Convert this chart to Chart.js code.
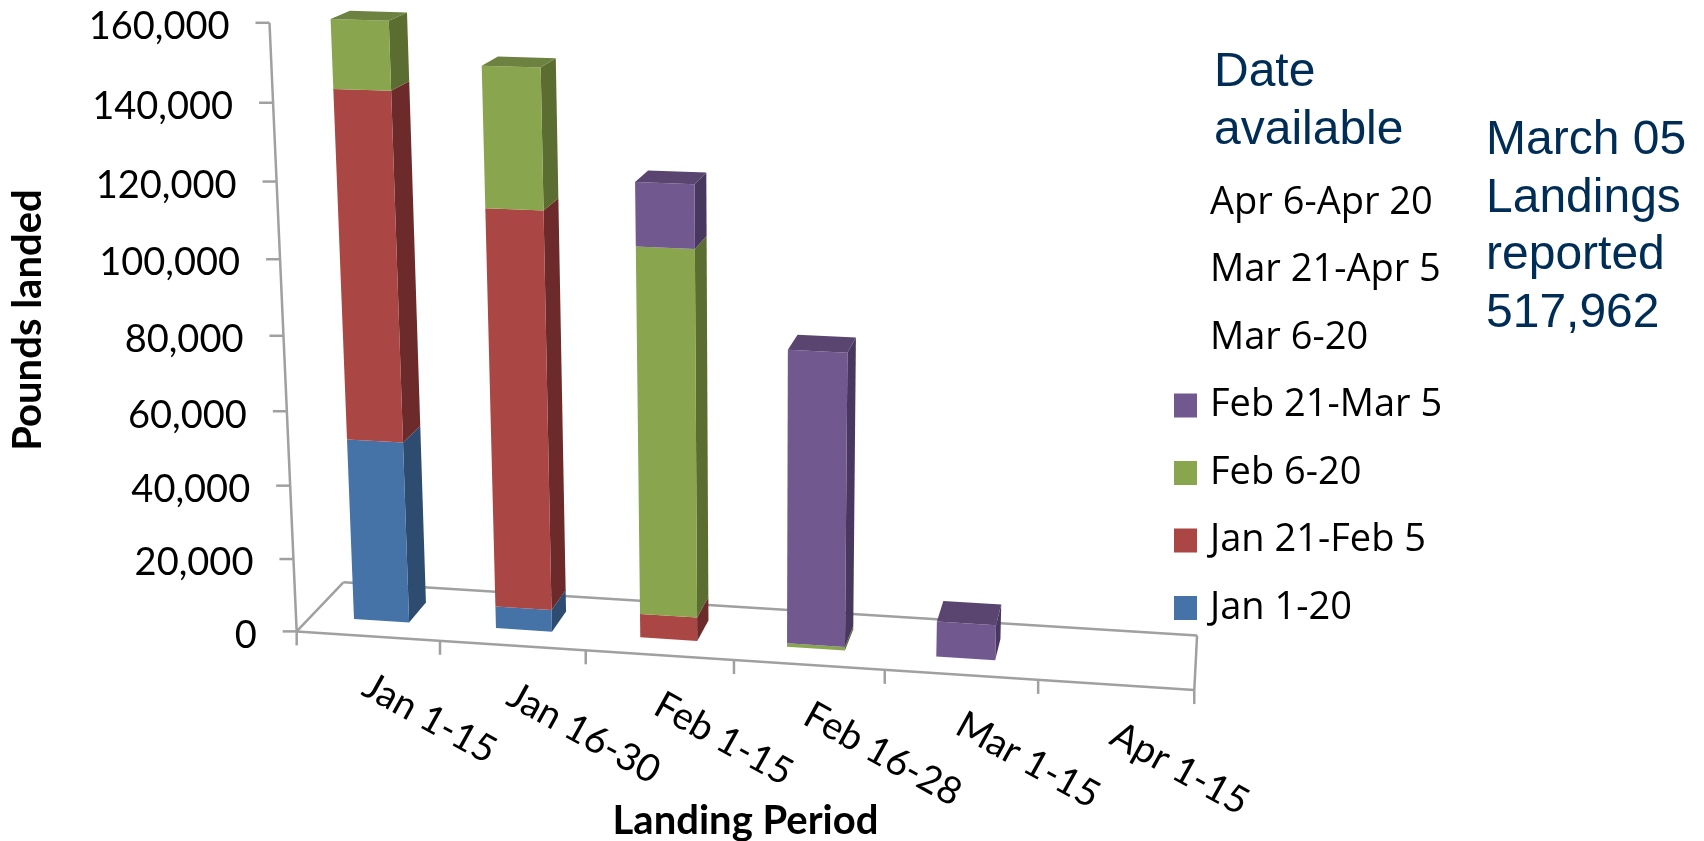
<!DOCTYPE html>
<html>
<head>
<meta charset="utf-8">
<title>March 05 landings</title>
<style>
  body { margin: 0; background: #fff; }
  #wrap { position: relative; width: 1704px; height: 841px; overflow: hidden; }
  .note { position: absolute; font-family: "Liberation Sans", sans-serif; font-size: 48px; line-height: 57.5px; color: #002d56; }
</style>
<script src="https://cdn.jsdelivr.net/npm/chart.js@4/dist/chart.umd.min.js"></script>
</head>
<body>
<div id="wrap">
  <canvas id="chart" width="1704" height="841"></canvas>
  <div class="note" style="left:1214px;top:41px">Date<br>available</div>
  <div class="note" style="left:1486px;top:109px">March 05<br>Landings<br>reported<br>517,962</div>
</div>
<script>
'use strict';

const periods = ['Jan 1-15', 'Jan 16-30', 'Feb 1-15', 'Feb 16-28', 'Mar 1-15', 'Apr 1-15'];
const jan1to20 = [49700, 6000, 0, 0, 0, 0];
const jan21toFeb5 = [92300, 106800, 6500, 0, 0, 0];
const feb6to20 = [17700, 36300, 98000, 1000, 0, 0];
const feb21toMar5 = [0, 0, 16500, 78500, 9500, 0];
const mar6to20 = [0, 0, 0, 0, 0, 0];
const mar21toApr5 = [0, 0, 0, 0, 0, 0];
const apr6to20 = [0, 0, 0, 0, 0, 0];

const SCALE = 1704 / 1568;
const BAR_FRONT = 0.3, BAR_BACK = 0.7;
const AXIS_GREY = '#a0a0a0';

// front, side and top colours per series
const faces = {
  'Jan 1-20': ['#4572a7', '#2e4b70', '#37598a'],
  'Jan 21-Feb 5': ['#aa4643', '#6c2b2a', '#873735'],
  'Feb 6-20': ['#89a54e', '#5b6d31', '#6d8240'],
  'Feb 21-Mar 5': ['#71588f', '#483860', '#5a4470']
};

// perspective of the old 3D chart: u along the axis, v up the value axis, w into the floor
function project(u, v, w) {
  const d = 1 - 0.05 * u - 0.0556 * v + 0.0516 * w;
  const x = (273 + 771 * u - 38.8 * v + 59.3 * w) / d;
  const y = (581 + 22.25 * u - 561.2 * v - 17.5 * w) / d;
  return [x * SCALE, y * SCALE];
}

function poly(ctx, pts, fill) {
  ctx.beginPath();
  pts.forEach((p, i) => i ? ctx.lineTo(p[0], p[1]) : ctx.moveTo(p[0], p[1]));
  ctx.closePath();
  ctx.fillStyle = fill;
  ctx.fill();
}

function line(ctx, a, b) {
  ctx.beginPath();
  ctx.moveTo(a[0], a[1]);
  ctx.lineTo(b[0], b[1]);
  ctx.stroke();
}

const perspective = {
  id: 'perspective',
  afterLayout(chart) {
    // the legend sits over the plot, where the old chart had it
    const lg = chart.legend;
    const pad = lg.options.labels.padding;
    lg.left = 1180 - pad;
    lg.top = 184 - pad;
    lg.right = lg.left + lg.width;
    lg.bottom = lg.top + lg.height;
  },
  beforeDatasetsDraw(chart) {
    const ctx = chart.ctx;
    const xs = chart.scales.x, ys = chart.scales.y;
    const uOf = px => (px - xs.left) / (xs.right - xs.left);
    const vOf = px => ys.getValueForPixel(px) / ys.max;

    ctx.save();
    ctx.strokeStyle = AXIS_GREY;
    ctx.lineWidth = 2.5;
    line(ctx, project(0, 0, 0), project(1, 0, 0));
    line(ctx, project(1, 0, 0), project(1, 0, 1));
    line(ctx, project(1, 0, 1), project(0, 0, 1));
    line(ctx, project(0, 0, 1), project(0, 0, 0));
    line(ctx, project(0, 0, 0), project(0, 1, 0));

    // value ticks and labels
    ctx.fillStyle = '#000';
    ctx.font = '38px Lato';
    ctx.textAlign = 'right';
    ctx.textBaseline = 'middle';
    ys.ticks.forEach(t => {
      const p = project(0, t.value / ys.max, 0);
      line(ctx, [p[0] - 14, p[1]], p);
      ctx.fillStyle = '#000';
      ctx.fillText(t.label, p[0] - 40, p[1] + 4);
    });

    // category ticks and slanted labels
    const n = periods.length;
    for (let i = 0; i <= n; i++) {
      const p = project(i / n, 0, 0);
      line(ctx, p, [p[0], p[1] + 14]);
    }
    ctx.font = '38px Lato';
    ctx.textAlign = 'left';
    ctx.textBaseline = 'alphabetic';
    xs.ticks.forEach((t, i) => {
      const p = project((i + 0.5) / n, 0, 0);
      ctx.save();
      ctx.translate(p[0] - 8, p[1] + 58);
      ctx.rotate(29 * Math.PI / 180);
      ctx.fillText(t.label, 0, 0);
      ctx.restore();
    });

    // boxes, left to right and bottom to top
    const metas = chart.getSortedVisibleDatasetMetas();
    for (let i = 0; i < n; i++) {
      let topSeg = null;
      metas.forEach(meta => {
        const bar = meta.data[i];
        if (Math.abs(bar.base - bar.y) < 0.01) return;
        const c = faces[chart.data.datasets[meta.index].label];
        const u0 = uOf(bar.x - bar.width / 2), u1 = uOf(bar.x + bar.width / 2);
        const v0 = vOf(bar.base), v1 = vOf(bar.y);
        poly(ctx, [project(u1, v0, BAR_FRONT), project(u1, v1, BAR_FRONT), project(u1, v1, BAR_BACK), project(u1, v0, BAR_BACK)], c[1]);
        poly(ctx, [project(u0, v0, BAR_FRONT), project(u1, v0, BAR_FRONT), project(u1, v1, BAR_FRONT), project(u0, v1, BAR_FRONT)], c[0]);
        topSeg = {u0, u1, v1, color: c[2]};
      });
      if (topSeg) {
        const {u0, u1, v1, color} = topSeg;
        poly(ctx, [project(u0, v1, BAR_FRONT), project(u1, v1, BAR_FRONT), project(u1, v1, BAR_BACK), project(u0, v1, BAR_BACK)], color);
      }
    }
    ctx.restore();
    return false;
  }
};

// borderWidth only thickens the legend swatch, so its text sits closer than fontSize/2 allows
const swatch = color => ({backgroundColor: color, borderColor: color, borderWidth: 12});

new Chart(document.getElementById('chart'), {
  type: 'bar',
  plugins: [perspective],
  data: {
    labels: periods,
    datasets: [
      {label: 'Jan 1-20', data: jan1to20, ...swatch('#4572a7')},
      {label: 'Jan 21-Feb 5', data: jan21toFeb5, ...swatch('#aa4643')},
      {label: 'Feb 6-20', data: feb6to20, ...swatch('#89a54e')},
      {label: 'Feb 21-Mar 5', data: feb21toMar5, ...swatch('#71588f')},
      {label: 'Mar 6-20', data: mar6to20, ...swatch('#ffffff')},
      {label: 'Mar 21-Apr 5', data: mar21toApr5, ...swatch('#ffffff')},
      {label: 'Apr 6-Apr 20', data: apr6to20, ...swatch('#ffffff')}
    ]
  },
  options: {
    responsive: false,
    animation: false,
    barPercentage: 0.39,
    categoryPercentage: 1,
    layout: {padding: {top: 9, right: 510}},
    plugins: {
      tooltip: {enabled: false},
      legend: {
        position: 'chartArea',
        align: 'start',
        reverse: true,
        labels: {
          boxWidth: 11,
          boxHeight: 12,
          padding: 29.5,
          color: '#000',
          font: {family: 'Open Sans', size: 38}
        }
      }
    },
    scales: {
      x: {
        stacked: true,
        grid: {display: false, drawTicks: false},
        border: {display: false},
        ticks: {display: false},
        title: {
          display: true,
          text: 'Landing Period',
          color: '#000',
          font: {family: 'Lato', size: 40, weight: 'bold', lineHeight: 1},
          padding: {top: 170, bottom: 0}
        }
      },
      y: {
        stacked: true,
        min: 0,
        max: 160000,
        grid: {display: false, drawTicks: false},
        border: {display: false},
        ticks: {
          display: false,
          stepSize: 20000,
          callback: v => v.toLocaleString('en-US')
        },
        title: {
          display: true,
          text: 'Pounds landed',
          color: '#000',
          font: {family: 'Lato', size: 40, weight: 'bold'},
          padding: {top: 4, bottom: 245}
        }
      }
    }
  }
});
</script>
</body>
</html>
